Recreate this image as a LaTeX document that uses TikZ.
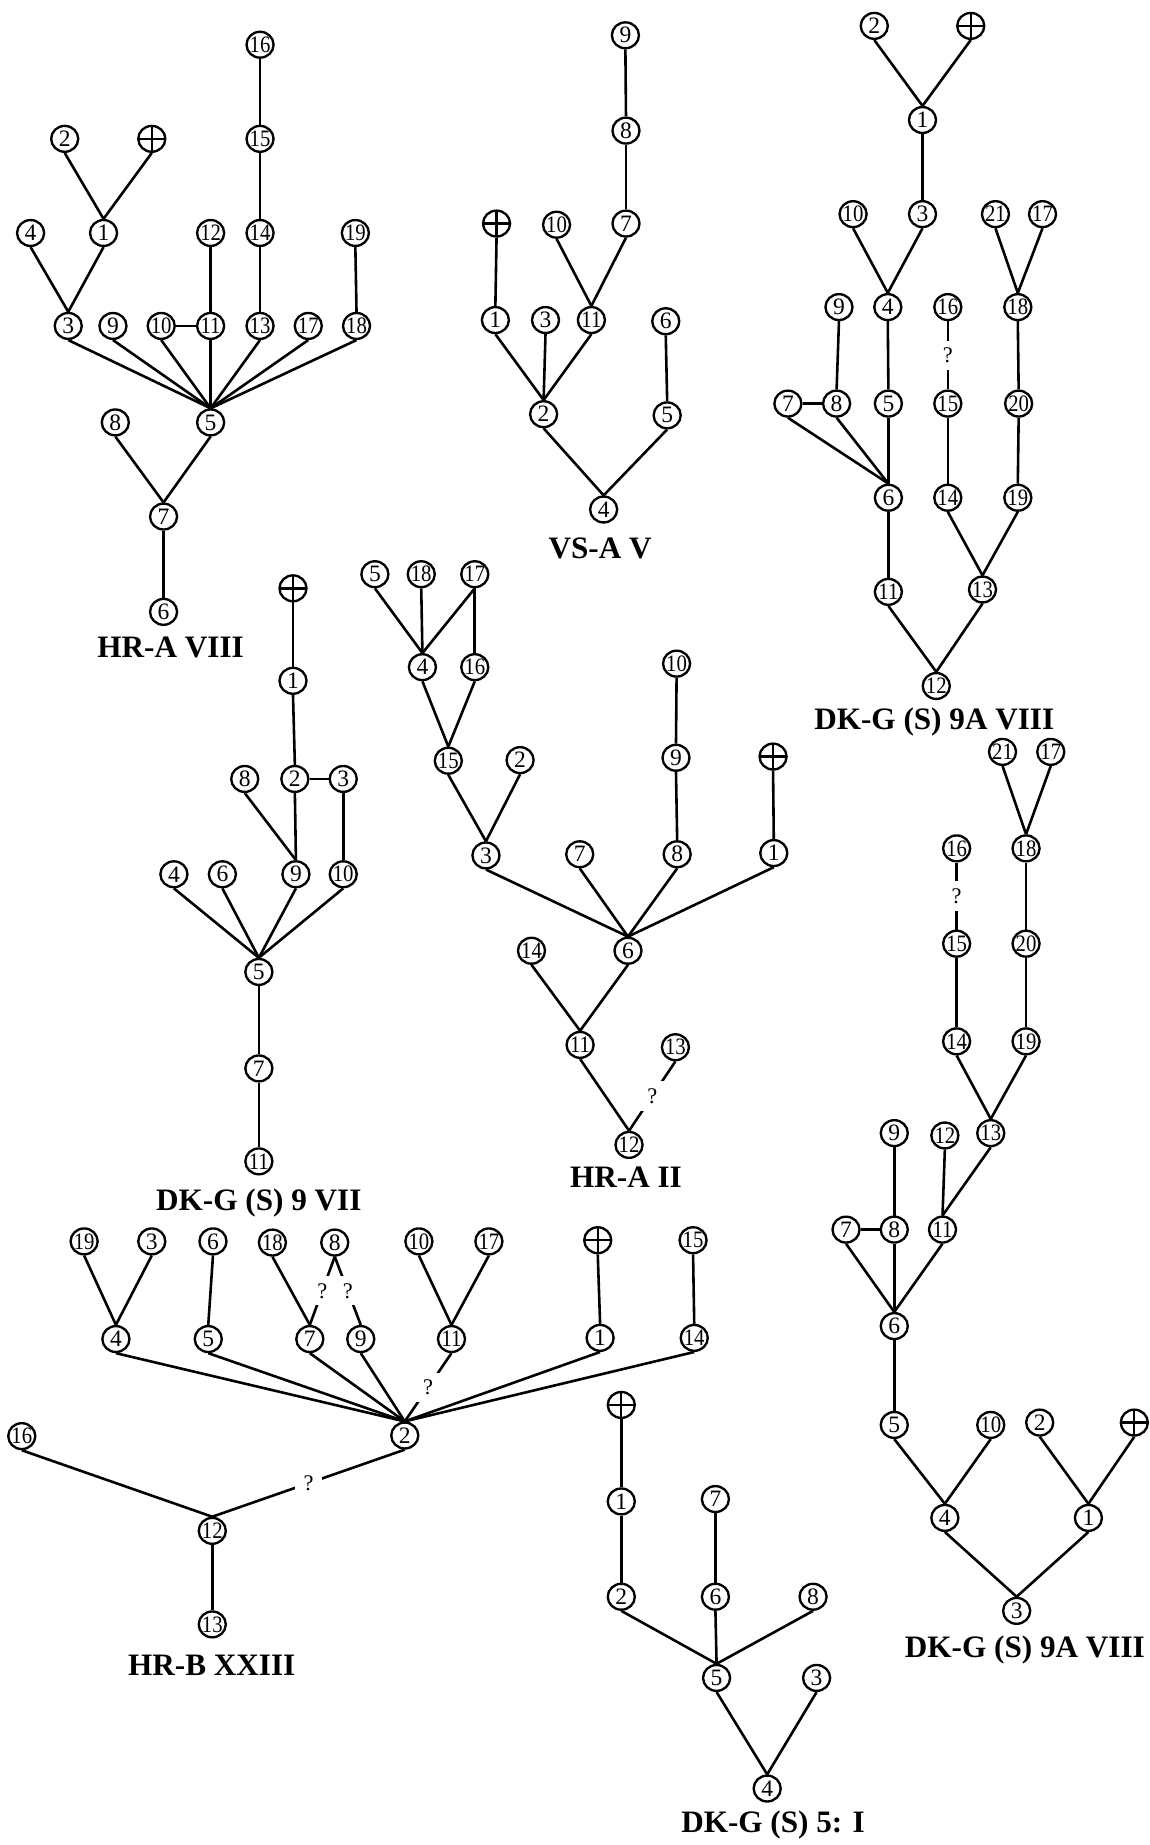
\documentclass[tikz,border=0pt]{standalone}
\usepackage{fontspec}
\usepackage{graphicx}
\setmainfont{Liberation Serif}
\usetikzlibrary{shapes.geometric}
\newcommand\twod[1]{\scalebox{0.88}[1]{#1}}
\tikzset{
  nd/.style={ellipse, draw, line width=2pt, minimum width=23pt, minimum height=22pt, inner sep=0pt, font=\fontsize{20}{20}\selectfont},
  pl/.style={nd, path picture={\draw[line width=2pt] (path picture bounding box.north) -- (path picture bounding box.south) (path picture bounding box.west) -- (path picture bounding box.east);}},
  qm/.style={fill=white, inner xsep=7pt, inner ysep=6pt, font=\fontsize{19}{19}\selectfont},
  lbl/.style={anchor=base, font=\fontsize{26.5}{26.5}\selectfont\bfseries},
  ln/.style={line width=2.2pt},
}
\newcommand\mkN[4]{\node[nd] (#1) at (#2,#3) {\makebox[0pt]{#4}};}
\newcommand\mkP[3]{\node[pl] (#1) at (#2,#3) {};}
\newcommand\edgeD[2]{\draw[ln] (#1.south) -- (#2.north);}
\newcommand\edgeH[2]{\draw[ln] (#1.east) -- (#2.west);}
\newcommand\edgeQ[2]{\draw[ln] (#1.south) -- node[qm]{?} (#2.north);}
\begin{document}
\begin{tikzpicture}[x=1pt,y=-1pt]
\useasboundingbox (0,0) rectangle (977,1568);
% ---------- HR-A VIII ----------
\mkN{A16}{221}{38}{\twod{16}}
\mkN{A15}{221}{118}{\twod{15}}
\mkN{A2}{55}{118}{2}
\mkP{Ap}{129}{118}
\mkN{A4}{26}{198}{4}
\mkN{A1}{88}{198}{1}
\mkN{A12}{179}{198}{\twod{12}}
\mkN{A14}{221}{198}{\twod{14}}
\mkN{A19}{302}{198}{\twod{19}}
\mkN{A3}{58}{277}{3}
\mkN{A9}{96}{277}{9}
\mkN{A10}{137}{277}{\twod{10}}
\mkN{A11}{179}{277}{\twod{11}}
\mkN{A13}{221}{277}{\twod{13}}
\mkN{A17}{262}{277}{\twod{17}}
\mkN{A18}{303}{277}{\twod{18}}
\mkN{A8}{98}{359}{8}
\mkN{A5}{179}{359}{5}
\mkN{A7}{139}{439}{7}
\mkN{A6}{139}{520}{6}
\node[lbl] (LA) at (145,558.6) {HR-A VIII};
\edgeD{A16}{A15}\edgeD{A15}{A14}\edgeD{A14}{A13}
\edgeD{A2}{A1}\edgeD{Ap}{A1}\edgeD{A1}{A3}\edgeD{A4}{A3}
\edgeD{A12}{A11}\edgeD{A19}{A18}\edgeH{A10}{A11}
\edgeD{A3}{A5}\edgeD{A9}{A5}\edgeD{A10}{A5}\edgeD{A11}{A5}
\edgeD{A13}{A5}\edgeD{A17}{A5}\edgeD{A18}{A5}
\edgeD{A8}{A7}\edgeD{A5}{A7}\edgeD{A7}{A6}
% ---------- VS-A V ----------
\mkN{B9}{531.5}{30}{9}
\mkN{B8}{532}{111}{8}
\mkN{B7}{532}{190}{7}
\mkP{Bp}{422}{190}
\mkN{B10}{473}{191}{\twod{10}}
\mkN{B1}{421}{272}{1}
\mkN{B3}{463.6}{272}{3}
\mkN{B11}{502.6}{272}{\twod{11}}
\mkN{B6}{565.8}{273}{6}
\mkN{B2}{462}{352}{2}
\mkN{B5}{567}{353}{5}
\mkN{B4}{513}{433}{4}
\node[lbl] (LB) at (510,474.6) {VS-A V};
\edgeD{B9}{B8}\edgeD{B8}{B7}\edgeD{B7}{B11}\edgeD{B10}{B11}
\edgeD{Bp}{B1}\edgeD{B1}{B2}\edgeD{B3}{B2}\edgeD{B11}{B2}
\edgeD{B6}{B5}\edgeD{B2}{B4}\edgeD{B5}{B4}
% ---------- DK-G (S) 9A VIII (top) ----------
\mkN{C2}{743}{22}{2}
\mkP{Cp}{825}{22}
\mkN{C1}{784}{102}{1}
\mkN{C10}{725}{182}{\twod{10}}
\mkN{C3}{784}{182}{3}
\mkN{C21}{846}{182}{\twod{21}}
\mkN{C17}{886}{182}{\twod{17}}
\mkN{C9}{713}{261}{9}
\mkN{C4}{754.5}{261}{4}
\mkN{C16}{805.5}{261}{\twod{16}}
\mkN{C18}{865}{261}{\twod{18}}
\mkN{C7}{669.6}{343}{7}
\mkN{C8}{711}{343}{8}
\mkN{C5}{755}{343}{5}
\mkN{C15}{805.5}{343}{\twod{15}}
\mkN{C20}{865.7}{343}{\twod{20}}
\mkN{C6}{755}{423}{6}
\mkN{C14}{805.5}{423}{\twod{14}}
\mkN{C19}{865}{423}{\twod{19}}
\mkN{C11}{755}{503}{\twod{11}}
\mkN{C13}{835}{501}{\twod{13}}
\mkN{C12}{795.7}{583}{\twod{12}}
\node[lbl] (LC) at (794,619.6) {DK-G (S) 9A VIII};
\edgeD{C2}{C1}\edgeD{Cp}{C1}\edgeD{C1}{C3}\edgeD{C10}{C4}\edgeD{C3}{C4}
\edgeD{C21}{C18}\edgeD{C17}{C18}\edgeD{C9}{C8}\edgeH{C7}{C8}
\edgeD{C4}{C5}\edgeD{C7}{C6}\edgeD{C8}{C6}\edgeD{C5}{C6}
\edgeQ{C16}{C15}\edgeD{C18}{C20}\edgeD{C15}{C14}\edgeD{C20}{C19}
\edgeD{C6}{C11}\edgeD{C14}{C13}\edgeD{C19}{C13}
\edgeD{C11}{C12}\edgeD{C13}{C12}
% ---------- DK-G (S) 9 VII ----------
\mkP{Dp}{249}{500}
\mkN{D1}{249}{578.6}{1}
\mkN{D8}{208}{662}{8}
\mkN{D2}{250.6}{662}{2}
\mkN{D3}{291.7}{662}{3}
\mkN{D4}{147.8}{743}{4}
\mkN{D6}{189}{743}{6}
\mkN{D9}{251.5}{743}{9}
\mkN{D10}{291.7}{743}{\twod{10}}
\mkN{D5}{220}{826}{5}
\mkN{D7}{220}{908}{7}
\mkN{D11}{220}{987}{\twod{11}}
\node[lbl] (LD) at (220,1028.6) {DK-G (S) 9 VII};
\edgeD{Dp}{D1}\edgeD{D1}{D2}\edgeH{D2}{D3}\edgeD{D2}{D9}\edgeD{D8}{D9}
\edgeD{D3}{D10}\edgeD{D4}{D5}\edgeD{D6}{D5}\edgeD{D9}{D5}\edgeD{D10}{D5}
\edgeD{D5}{D7}\edgeD{D7}{D11}
% ---------- HR-A II ----------
\mkN{E5}{318.6}{488}{5}
\mkN{E18}{358}{488}{\twod{18}}
\mkN{E17}{403.5}{488}{\twod{17}}
\mkN{E4}{359}{567}{4}
\mkN{E16}{403.5}{567}{\twod{16}}
\mkN{E15}{381}{646.5}{\twod{15}}
\mkN{E2}{442}{646}{2}
\mkN{E3}{413}{727}{3}
\mkN{E10}{575}{564}{\twod{10}}
\mkN{E9}{574.5}{644}{9}
\mkP{Ep}{657}{643}
\mkN{E7}{492.7}{726}{7}
\mkN{E8}{575.5}{726}{8}
\mkN{E1}{657.6}{725}{1}
\mkN{E14}{451.7}{808}{\twod{14}}
\mkN{E6}{533.7}{808}{6}
\mkN{E11}{493}{888}{\twod{11}}
\mkN{E13}{574}{890}{\twod{13}}
\mkN{E12}{534.6}{973}{\twod{12}}
\node[lbl] (LE) at (532,1009.6) {HR-A II};
\edgeD{E5}{E4}\edgeD{E18}{E4}\edgeD{E17}{E4}\edgeD{E17}{E16}
\edgeD{E4}{E15}\edgeD{E16}{E15}\edgeD{E15}{E3}\edgeD{E2}{E3}
\edgeD{E10}{E9}\edgeD{E9}{E8}\edgeD{Ep}{E1}
\edgeD{E3}{E6}\edgeD{E7}{E6}\edgeD{E8}{E6}\edgeD{E1}{E6}
\edgeD{E14}{E11}\edgeD{E6}{E11}\edgeD{E11}{E12}\edgeQ{E13}{E12}
% ---------- HR-B XXIII ----------
\mkN{F19}{71.5}{1055}{\twod{19}}
\mkN{F3}{129}{1055}{3}
\mkN{F6}{181}{1055}{6}
\mkN{F18}{231.5}{1056}{\twod{18}}
\mkN{F8}{284.5}{1056}{8}
\mkN{F10}{356}{1055}{\twod{10}}
\mkN{F17}{415.5}{1055}{\twod{17}}
\mkP{Fp}{508}{1054}
\mkN{F15}{589}{1054}{\twod{15}}
\mkN{F4}{98.5}{1138}{4}
\mkN{F5}{177}{1138}{5}
\mkN{F7}{263.3}{1138}{7}
\mkN{F9}{306.6}{1138}{9}
\mkN{F11}{383.7}{1138}{\twod{11}}
\mkN{F1}{510}{1137}{1}
\mkN{F14}{590}{1137}{\twod{14}}
\mkN{F16}{18.5}{1220.5}{\twod{16}}
\mkN{F2}{344}{1220}{2}
\mkN{F12}{180.4}{1301}{\twod{12}}
\mkN{F13}{180.4}{1380.5}{\twod{13}}
\node[lbl] (LF) at (180,1423.6) {HR-B XXIII};
\edgeD{F19}{F4}\edgeD{F3}{F4}\edgeD{F6}{F5}\edgeD{F18}{F7}
\edgeQ{F8}{F7}\edgeQ{F8}{F9}\edgeD{F10}{F11}\edgeD{F17}{F11}
\edgeD{Fp}{F1}\edgeD{F15}{F14}
\edgeD{F4}{F2}\edgeD{F5}{F2}\edgeD{F7}{F2}\edgeD{F9}{F2}
\edgeQ{F11}{F2}\edgeD{F1}{F2}\edgeD{F14}{F2}
\edgeD{F16}{F12}\edgeQ{F2}{F12}\edgeD{F12}{F13}
% ---------- DK-G (S) 5: I ----------
\mkP{Gp}{528}{1194}
\mkN{G1}{528}{1276}{1}
\mkN{G7}{608}{1274}{7}
\mkN{G2}{528}{1357}{2}
\mkN{G6}{608}{1357}{6}
\mkN{G8}{691}{1357}{8}
\mkN{G5}{609}{1426}{5}
\mkN{G3}{694}{1426}{3}
\mkN{G4}{652}{1520}{4}
\node[lbl] (LG) at (657,1557.6) {DK-G (S) 5: I};
\edgeD{Gp}{G1}\edgeD{G1}{G2}\edgeD{G7}{G6}
\edgeD{G2}{G5}\edgeD{G6}{G5}\edgeD{G8}{G5}
\edgeD{G5}{G4}\edgeD{G3}{G4}
% ---------- DK-G (S) 9A VIII (lower right) ----------
\mkN{H21}{852}{639}{\twod{21}}
\mkN{H17}{893}{639}{\twod{17}}
\mkN{H16}{813}{721}{\twod{16}}
\mkN{H18}{872}{721}{\twod{18}}
\mkN{H15}{813}{802}{\twod{15}}
\mkN{H20}{872}{802}{\twod{20}}
\mkN{H14}{813}{885}{\twod{14}}
\mkN{H19}{872}{885}{\twod{19}}
\mkN{H9}{760}{963}{9}
\mkN{H12}{803}{965}{\twod{12}}
\mkN{H13}{842}{963}{\twod{13}}
\mkN{H7}{719}{1045}{7}
\mkN{H8}{760}{1045}{8}
\mkN{H11}{801}{1045}{\twod{11}}
\mkN{H6}{760}{1127}{6}
\mkN{H5}{760}{1211}{5}
\mkN{H10}{842}{1211}{\twod{10}}
\mkN{H2}{883.6}{1209}{2}
\mkP{Hp}{964}{1209}
\mkN{H4}{803}{1290}{4}
\mkN{H1}{925}{1290}{1}
\mkN{H3}{864}{1369}{3}
\node[lbl] (LH) at (871,1408.6) {DK-G (S) 9A VIII};
\edgeD{H21}{H18}\edgeD{H17}{H18}\edgeD{H18}{H20}\edgeQ{H16}{H15}
\edgeD{H15}{H14}\edgeD{H20}{H19}\edgeD{H14}{H13}\edgeD{H19}{H13}
\edgeD{H13}{H11}\edgeD{H12}{H11}\edgeD{H9}{H8}\edgeH{H7}{H8}
\edgeD{H7}{H6}\edgeD{H8}{H6}\edgeD{H11}{H6}\edgeD{H6}{H5}
\edgeD{H5}{H4}\edgeD{H10}{H4}\edgeD{H2}{H1}\edgeD{Hp}{H1}
\edgeD{H4}{H3}\edgeD{H1}{H3}
\end{tikzpicture}
\end{document}
